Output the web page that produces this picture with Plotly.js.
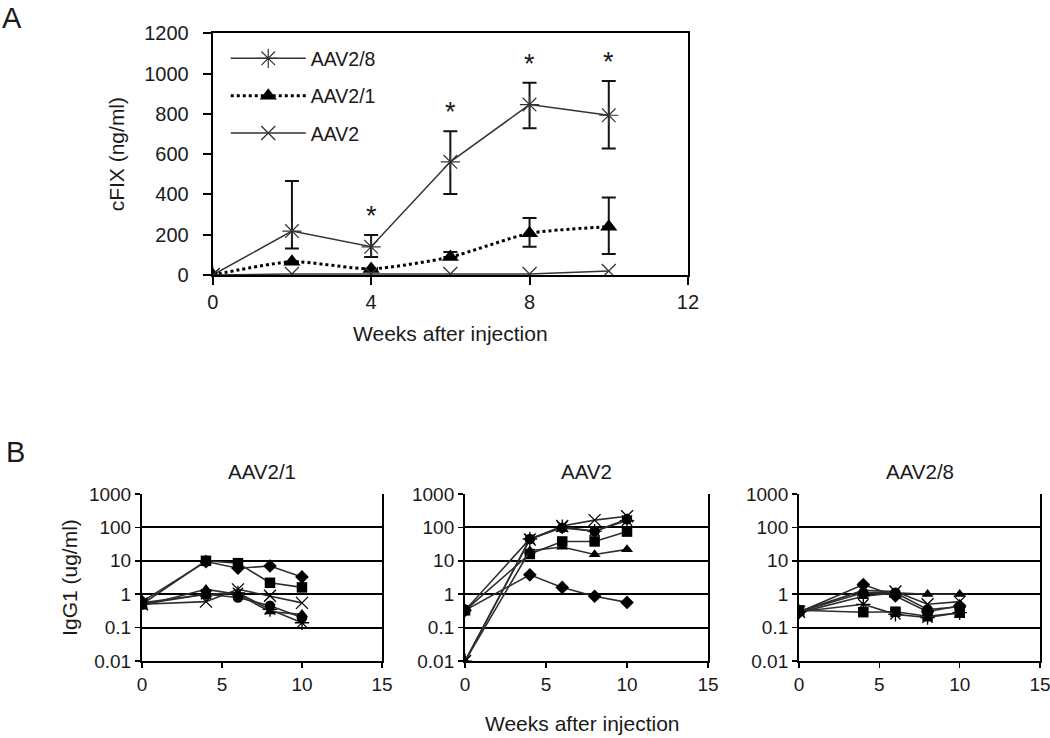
<!DOCTYPE html>
<html><head><meta charset="utf-8">
<script src="https://cdn.plot.ly/plotly-3.0.1.min.js"></script>
<style>body{margin:0;background:#fff}#c{width:1050px;height:738px}</style>
</head><body><div id="c"></div>
<script>
// Panel A data
const weeksA = [0, 2, 4, 6, 8, 10];
const aav28 = [0, 218, 140, 562, 846, 793];
const aav28Up = [0, 248, 58, 152, 108, 170];
const aav28Down = [0, 86, 51, 160, 117, 165];
const aav21 = [0, 66, 30, 89, 207, 240];
const aav21Up = [0, 0, 0, 25, 76, 145];
const aav21Down = [0, 0, 0, 0, 67, 136];
const aav2 = [0, 5, 5, 5, 5, 20];
const sigWeeks = [4, 6, 8, 10];

// Panel B data
const weeksB = [0, 4, 6, 8, 10];
const markerSymbols = ['diamond', 'square', 'triangle-up', 'x-thin-open', 'asterisk-open', 'circle'];
const b21 = [
  [0.6, 9.5, 6.0, 7.0, 3.3],
  [0.5, 10, 8.5, 2.2, 1.6],
  [0.45, 1.4, 1.0, 0.3, 0.25],
  [0.5, 0.6, 1.4, 0.9, 0.55],
  [0.55, 1.0, 1.1, 0.35, 0.14],
  [0.5, 1.0, 0.8, 0.45, 0.2]
];
const b2 = [
  [0.33, 3.8, 1.6, 0.87, 0.57],
  [0.33, 16, 38, 38, 75],
  [0.01, 20, 26, 15.5, 22],
  [0.01, 43, 110, 165, 215],
  [0.01, 45, 105, 77, 160],
  [0.33, 45, 97, 77, 175]
];
const b28 = [
  [0.29, 1.95, 0.89, 0.3, 0.45],
  [0.33, 0.29, 0.3, 0.22, 0.28],
  [0.28, 0.87, 1.1, 1.0, 1.0],
  [0.3, 1.3, 1.2, 0.5, 0.6],
  [0.3, 0.5, 0.25, 0.2, 0.28],
  [0.3, 1.1, 1.1, 0.35, 0.42]
];
const bTitles = ['AAV2/1', 'AAV2', 'AAV2/8'];
const logTickVals = [0.01, 0.1, 1, 10, 100, 1000];
const logTickText = ['0.01', '0.1', '1', '10', '100', '1000'];

const FONT = 'Liberation Sans, Arial, sans-serif';
const TXT = '#1a1a1a';

const traces = [];
traces.push({
  x: weeksA, y: aav28, name: 'AAV2/8', legendgroup: 'g1', mode: 'lines+markers',
  line: {color: '#333', width: 1.5},
  marker: {symbol: 'asterisk-open', size: 16, color: '#333', line: {width: 1.2, color: '#333'}},
  error_y: {type: 'data', array: aav28Up, arrayminus: aav28Down, color: '#111', thickness: 2, width: 7},
  xaxis: 'x', yaxis: 'y'
});
traces.push({
  x: weeksA, y: aav21, name: 'AAV2/1', legendgroup: 'g2', mode: 'lines+markers',
  line: {color: '#000', width: 3, dash: 'dot', shape: 'spline', smoothing: 0.6},
  marker: {symbol: 'triangle-up', size: 15, color: '#000'},
  error_y: {type: 'data', array: aav21Up, arrayminus: aav21Down, color: '#111', thickness: 2, width: 7},
  xaxis: 'x', yaxis: 'y'
});
traces.push({
  x: weeksA, y: aav2, name: 'AAV2', legendgroup: 'g3', mode: 'lines+markers',
  line: {color: '#333', width: 1.5},
  marker: {symbol: 'x-thin-open', size: 14, color: '#333', line: {width: 1.3, color: '#333'}},
  xaxis: 'x', yaxis: 'y'
});

const bSets = [b21, b2, b28];
bSets.forEach((set, k) => {
  set.forEach((vals, i) => {
    const sym = markerSymbols[i];
    const open = sym.indexOf('open') >= 0;
    traces.push({
      x: weeksB, y: vals, mode: 'lines+markers', showlegend: false,
      line: {color: '#2e2e2e', width: 1.6},
      marker: {symbol: sym, size: open ? 12 : 10.5, color: '#000', line: {width: open ? 1.3 : 0, color: '#000'}},
      xaxis: 'x' + (k + 2), yaxis: 'y' + (k + 2)
    });
  });
});

const layout = {
  width: 1050, height: 738,
  margin: {l: 0, r: 0, t: 0, b: 0},
  paper_bgcolor: '#fff', plot_bgcolor: '#fff',
  font: {family: FONT, color: TXT, size: 19},
  showlegend: true,
  legend: {x: 0.215, y: 0.947, xanchor: 'left', yanchor: 'top', bgcolor: 'rgba(0,0,0,0)',
    font: {size: 19.5, family: FONT, color: TXT}, itemwidth: 75, tracegroupgap: 9, traceorder: 'grouped'},
  xaxis: {domain: [0.2026, 0.6552], anchor: 'y', range: [0, 12], dtick: 4, tick0: 0,
    showline: true, mirror: true, linecolor: '#000', linewidth: 2, ticks: 'outside', ticklen: 8, tickwidth: 2, tickcolor: '#000',
    showgrid: false, zeroline: false, tickfont: {size: 20},
    title: {text: 'Weeks after injection', font: {size: 21}, standoff: 14}},
  yaxis: {domain: [0.6274, 0.9549], anchor: 'x', range: [0, 1200], dtick: 200,
    showline: true, mirror: true, linecolor: '#000', linewidth: 2, ticks: 'outside', ticklen: 8, tickwidth: 2, tickcolor: '#000',
    showgrid: false, zeroline: false, tickfont: {size: 20}, ticklabelstandoff: 10,
    title: {text: 'cFIX (ng/ml)', font: {size: 21}, standoff: 14}},
  annotations: [
    {text: 'A', x: 0.0, y: 1.0, xref: 'paper', yref: 'paper', xanchor: 'left', yanchor: 'top', showarrow: false, font: {size: 29}},
    {text: 'B', x: 0.004, y: 0.412, xref: 'paper', yref: 'paper', xanchor: 'left', yanchor: 'top', showarrow: false, font: {size: 29}},
    {text: 'Weeks after injection', x: 0.555, y: 0.0, xref: 'paper', yref: 'paper', xanchor: 'center', yanchor: 'bottom', showarrow: false, font: {size: 21}, yshift: 1}
  ]
};

sigWeeks.forEach(w => {
  const i = weeksA.indexOf(w);
  layout.annotations.push({text: '*', x: w, y: aav28[i] + aav28Up[i], xref: 'x', yref: 'y',
    showarrow: false, yanchor: 'bottom', yshift: 2, font: {size: 27}});
});

const bDomX = [[0.1352, 0.3638], [0.4429, 0.6743], [0.761, 0.9905]];
bDomX.forEach((d, k) => {
  const xn = 'xaxis' + (k + 2), yn = 'yaxis' + (k + 2);
  layout[xn] = {domain: d, anchor: 'y' + (k + 2), range: [0, 15], dtick: 5, tick0: 0,
    showline: true, mirror: false, linecolor: '#000', linewidth: 2, ticks: 'outside', ticklen: 5, tickwidth: 1.5, tickcolor: '#000',
    showgrid: false, zeroline: false, tickfont: {size: 19}, ticklabeloverflow: 'allow'};
  layout[yn] = {domain: [0.1043, 0.3306], anchor: 'x' + (k + 2), type: 'log', range: [-2, 3],
    tickvals: logTickVals, ticktext: logTickText,
    showline: true, mirror: true, linecolor: '#000', linewidth: 2, ticks: 'outside', ticklen: 5, tickwidth: 1.5, tickcolor: '#000',
    showgrid: true, gridcolor: '#000', gridwidth: 2, zeroline: false, tickfont: {size: 19}};
  if (k === 0) layout[yn].title = {text: 'IgG1 (ug/ml)', font: {size: 21}, standoff: 6};
  layout.annotations.push({text: bTitles[k], x: (d[0] + d[1]) / 2, y: 0.343, xref: 'paper', yref: 'paper',
    xanchor: 'center', yanchor: 'bottom', showarrow: false, font: {size: 20.5}});
});

Plotly.newPlot('c', traces, layout, {displayModeBar: false, staticPlot: true});
</script></body></html>
